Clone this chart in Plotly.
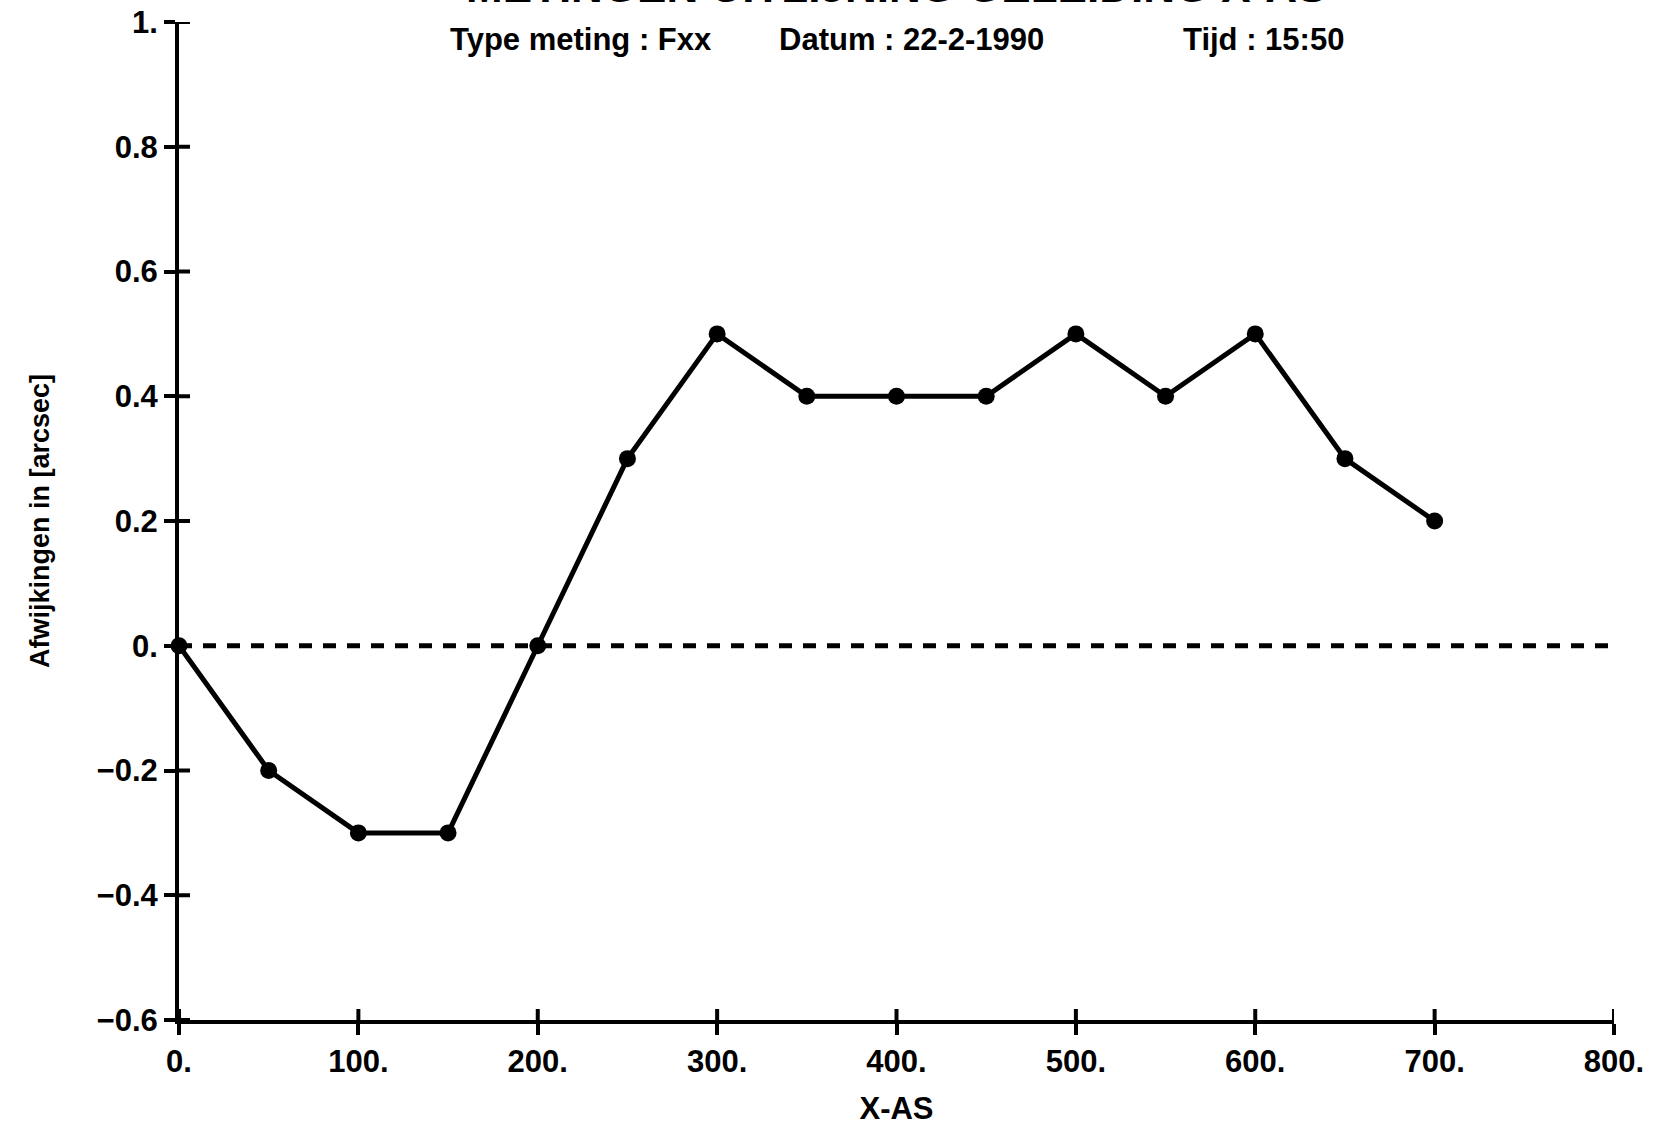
import plotly.graph_objects as go

# Measured deviations along the X axis
positions = [0, 50, 100, 150, 200, 250, 300, 350, 400, 450, 500, 550, 600, 650, 700]
deviations = [0.0, -0.2, -0.3, -0.3, 0.0, 0.3, 0.5, 0.4, 0.4, 0.4, 0.5, 0.4, 0.5, 0.3, 0.2]

x_tick_values = [0, 100, 200, 300, 400, 500, 600, 700, 800]
x_tick_labels = ["0.", "100.", "200.", "300.", "400.", "500.", "600.", "700.", "800."]
y_tick_values = [-0.6, -0.4, -0.2, 0.0, 0.2, 0.4, 0.6, 0.8, 1.0]
y_tick_labels = ["\u22120.6", "\u22120.4", "\u22120.2", "0.", "0.2", "0.4", "0.6", "0.8", "1."]

title_text = "METINGEN UITLIJNING GELEIDING X-AS"
header_parts = ["Type meting : Fxx", "Datum : 22-2-1990", "Tijd : 15:50"]
header_left = [0.1875, 0.4167, 0.698]
x_title = "X-AS"
y_title = "Afwijkingen in [arcsec]"

FONT = "Liberation Sans, Arial, sans-serif"
INK = "black"

fig = go.Figure()

# zero reference line
fig.add_shape(type="line", xref="x", yref="y", x0=x_tick_values[0], x1=x_tick_values[-1],
              y0=0, y1=0, line=dict(color=INK, width=5, dash="13px,11px"), layer="below")

fig.add_trace(go.Scatter(
    x=positions, y=deviations, mode="lines+markers",
    line=dict(color=INK, width=5),
    marker=dict(color=INK, size=17, symbol="circle"),
    cliponaxis=False, showlegend=False,
))

# inner halves of the tick marks, so each tick crosses its axis
for xv in x_tick_values:
    fig.add_shape(type="line", xref="x", yref="paper", ysizemode="pixel", yanchor=0,
                  x0=xv, x1=xv, y0=0, y1=11, line=dict(color=INK, width=4))
for yv in y_tick_values:
    fig.add_shape(type="line", xref="paper", yref="y", xsizemode="pixel", xanchor=0,
                  x0=0, x1=11, y0=yv, y1=yv, line=dict(color=INK, width=4))

axis_font = dict(family=FONT, size=31, color=INK, weight="bold")

fig.update_xaxes(
    range=[0, 800], tickvals=x_tick_values, ticktext=x_tick_labels,
    showgrid=False, zeroline=False, showline=True, linecolor=INK, linewidth=4,
    ticks="outside", ticklen=11, tickwidth=4, tickcolor=INK,
    tickfont=axis_font, automargin=False,
    title=dict(text=x_title, font=dict(family=FONT, size=31, color=INK, weight="bold"), standoff=20),
)
fig.update_yaxes(
    range=[-0.6, 1.0], tickvals=y_tick_values, ticktext=y_tick_labels,
    showgrid=False, zeroline=False, showline=True, linecolor=INK, linewidth=4,
    ticks="outside", ticklen=11, tickwidth=4, tickcolor=INK,
    tickfont=axis_font, automargin=False,
    title=dict(text=y_title, font=dict(family=FONT, size=27, color=INK, weight="bold"), standoff=40),
)

fig.add_annotation(text=title_text, xref="paper", yref="paper", x=0.5, y=1,
                   xanchor="center", yanchor="bottom", yshift=9, showarrow=False,
                   font=dict(family=FONT, size=44, color=INK, weight="bold"))
for part, left in zip(header_parts, header_left):
    fig.add_annotation(text=part, xref="paper", yref="paper", x=left, y=1,
                       xanchor="left", yanchor="top", yshift=2, showarrow=False,
                       font=dict(family=FONT, size=31, color=INK, weight="bold"))

fig.update_layout(
    width=1654, height=1128,
    margin=dict(l=179, r=40, t=22, b=108),
    paper_bgcolor="white", plot_bgcolor="white",
    font=dict(family=FONT, color=INK),
)

fig.write_html("out.html")
